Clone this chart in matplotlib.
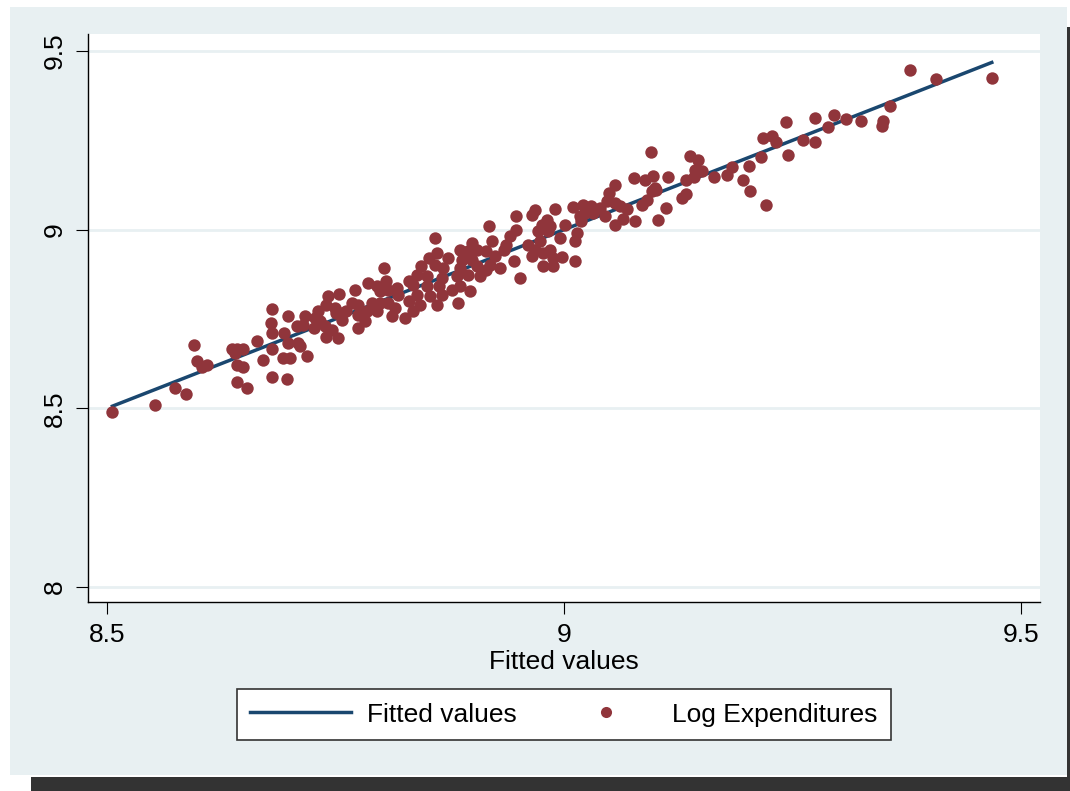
import matplotlib.pyplot as plt
from matplotlib.patches import Rectangle
from matplotlib.lines import Line2D

# Fitted values (x) and log expenditures (y)
fitted = [
    8.506, 8.553, 8.574, 8.586, 8.595, 8.599, 8.604, 8.609, 8.637, 8.642,
    8.649, 8.640, 8.642, 8.649, 8.642, 8.653, 8.664, 8.671, 8.681, 8.679,
    8.681, 8.681, 8.681, 8.694, 8.698, 8.698, 8.693, 8.700, 8.697, 8.708,
    8.714, 8.717, 8.709, 8.711, 8.719,
    8.803, 8.786, 8.805, 8.795, 8.799, 8.808, 8.817, 8.818, 8.830, 8.771,
    8.754, 8.742, 8.740, 8.750, 8.768, 8.775, 8.762, 8.757, 8.751, 8.790,
    8.799, 8.808, 8.795, 8.784, 8.775, 8.757, 8.782, 8.775, 8.812, 8.815,
    8.830, 8.826, 8.835, 8.731, 8.728, 8.733, 8.739, 8.746, 8.740, 8.753,
    8.726,
    8.918, 8.859, 8.921, 8.941, 8.948, 8.948, 8.899, 8.886, 8.895, 8.905,
    8.915, 8.861, 8.852, 8.873, 8.888, 8.899, 8.925, 8.934, 8.937, 8.844,
    8.859, 8.868, 8.886, 8.905, 8.919, 8.930, 8.839, 8.850, 8.866, 8.883,
    8.895, 8.908, 8.915, 8.835, 8.850, 8.863, 8.877, 8.886, 8.897, 8.839,
    8.853, 8.866, 8.884, 8.861, 8.843, 8.952,
    9.056, 9.049, 9.047, 9.056, 9.010, 9.021, 9.030, 9.039, 8.990, 8.968,
    8.965, 9.023, 9.032, 9.045, 9.018, 9.019, 8.981, 8.976, 9.001, 8.985,
    9.056, 8.972, 8.983, 9.014, 9.012, 8.996, 8.974, 8.961, 8.968, 8.985,
    8.977, 8.965, 8.988, 8.945, 8.998, 9.012, 8.977, 8.988,
    9.095, 9.138, 9.147, 9.143, 9.151, 9.164, 9.077, 9.089, 9.097, 9.114,
    9.134, 9.142, 9.100, 9.096, 9.101, 9.091, 9.134, 9.129, 9.061, 9.069,
    9.085, 9.112, 9.065, 9.078, 9.103,
    9.378, 9.407, 9.468, 9.357, 9.325, 9.309, 9.295, 9.289, 9.275, 9.275,
    9.261, 9.243, 9.245, 9.228, 9.232, 9.218, 9.215, 9.202, 9.196, 9.203,
    9.221, 9.184, 9.178, 9.349, 9.348,
]
log_exp = [
    8.491, 8.510, 8.558, 8.541, 8.678, 8.633, 8.617, 8.622, 8.667, 8.667,
    8.667, 8.656, 8.622, 8.617, 8.575, 8.558, 8.689, 8.636, 8.779, 8.740,
    8.712, 8.667, 8.589, 8.712, 8.757, 8.684, 8.642, 8.642, 8.583, 8.731,
    8.734, 8.759, 8.684, 8.673, 8.645,
    8.893, 8.851, 8.855, 8.841, 8.827, 8.832, 8.837, 8.818, 8.855, 8.832,
    8.820, 8.813, 8.790, 8.781, 8.795, 8.790, 8.771, 8.767, 8.767, 8.795,
    8.795, 8.795, 8.771, 8.771, 8.762, 8.748, 8.743, 8.725, 8.757, 8.781,
    8.799, 8.753, 8.771, 8.771, 8.753, 8.743, 8.729, 8.720, 8.700, 8.697,
    8.725,
    9.009, 8.977, 8.967, 8.981, 9.000, 9.037, 8.963, 8.944, 8.939, 8.944,
    8.939, 8.935, 8.921, 8.921, 8.916, 8.916, 8.925, 8.944, 8.958, 8.897,
    8.902, 8.893, 8.893, 8.897, 8.902, 8.893, 8.874, 8.869, 8.865, 8.869,
    8.874, 8.869, 8.888, 8.846, 8.841, 8.841, 8.832, 8.841, 8.827, 8.818,
    8.813, 8.818, 8.795, 8.790, 8.790, 8.865,
    9.126, 9.103, 9.079, 9.075, 9.064, 9.070, 9.067, 9.061, 9.058, 9.056,
    9.042, 9.047, 9.047, 9.037, 9.037, 9.023, 9.028, 9.014, 9.014, 9.009,
    9.014, 8.995, 8.995, 8.991, 8.967, 8.977, 8.967, 8.958, 8.944, 8.944,
    8.935, 8.925, 8.921, 8.911, 8.924, 8.911, 8.899, 8.897,
    9.216, 9.207, 9.194, 9.168, 9.163, 9.148, 9.145, 9.138, 9.149, 9.148,
    9.140, 9.148, 9.117, 9.107, 9.110, 9.084, 9.101, 9.089, 9.065, 9.058,
    9.070, 9.061, 9.030, 9.023, 9.028,
    9.448, 9.423, 9.425, 9.347, 9.305, 9.310, 9.322, 9.286, 9.313, 9.246,
    9.251, 9.300, 9.209, 9.261, 9.246, 9.257, 9.202, 9.179, 9.140, 9.107,
    9.070, 9.174, 9.154, 9.303, 9.289,
]
x_ticks = [8.5, 9, 9.5]
x_labels = ["8.5", "9", "9.5"]
y_ticks = [8, 8.5, 9, 9.5]
y_labels = ["8", "8.5", "9", "9.5"]

navy = "#1a476f"
maroon = "#90353b"
bluish = "#e8f0f2"

plt.rcParams['font.family'] = ['Liberation Sans', 'DejaVu Sans']

fig = plt.figure(figsize=(10.7, 7.91), dpi=100)
fig.patch.set_facecolor('white')

# shadow and graph region (behind the axes)
fig.patches.append(Rectangle((0.029, 0.0), 0.971, 0.0177, transform=fig.transFigure,
                             facecolor='#333333', edgecolor='none', zorder=-2))
fig.patches.append(Rectangle((0.9975, 0.0), 0.0025, 0.966, transform=fig.transFigure,
                             facecolor='#333333', edgecolor='none', zorder=-2))
fig.patches.append(Rectangle((0.0093, 0.0202), 0.988, 0.971, transform=fig.transFigure,
                             facecolor=bluish, edgecolor='none', zorder=-1))

ax = fig.add_axes([0.0822, 0.239, 0.8898, 0.718])
ax.set_zorder(1)
ax.set_facecolor('white')

line_x = sorted(fitted)
ax.plot(line_x, line_x, color=navy, lw=2.5, zorder=2, label="Fitted values")
ax.scatter(fitted, log_exp, s=80, color=maroon, linewidths=0, zorder=3,
           label="Log Expenditures")

ax.set_xlim(8.4792, 9.5208)
ax.set_ylim(7.958, 9.5476)
ax.set_xticks(x_ticks, x_labels)
ax.set_yticks(y_ticks, y_labels)
ax.yaxis.grid(True, color=bluish, lw=2)
ax.set_axisbelow(True)

for s in ['top', 'right']:
    ax.spines[s].set_visible(False)
for s in ['left', 'bottom']:
    ax.spines[s].set_linewidth(1)
    ax.spines[s].set_color('black')

ax.tick_params(length=8.5, width=0.8, labelsize=19, pad=7)
ax.tick_params(axis='y', labelrotation=90)
for lab in ax.get_yticklabels():
    lab.set_verticalalignment('center')

ax.set_xlabel("Fitted values", fontsize=19, labelpad=1.5)

handles = [Line2D([], [], color=navy, lw=2.5),
           Line2D([], [], color=maroon, marker='o', ls='none', markersize=8,
                  markeredgewidth=0)]
leg = fig.legend(handles, ["Fitted values", "Log Expenditures"], loc='center',
                 bbox_to_anchor=(0.527, 0.0967), ncol=2, fontsize=19,
                 frameon=True, fancybox=False, framealpha=1, handlelength=3.8,
                 handletextpad=0.6, columnspacing=1.5, borderpad=0.5)
leg.set_zorder(5)
leg.get_frame().set_edgecolor('#333333')
leg.get_frame().set_linewidth(1.2)

fig.savefig("out.png", dpi=100, facecolor=fig.get_facecolor())
